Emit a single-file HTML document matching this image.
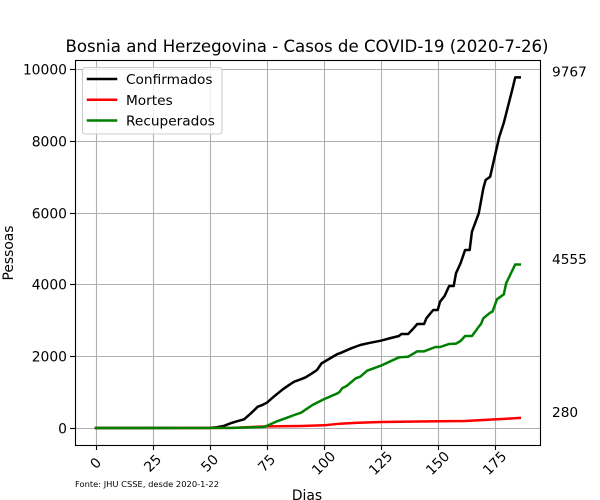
<!DOCTYPE html>
<html>
<head>
<meta charset="utf-8">
<style>
html,body{margin:0;padding:0;background:#fff;}
svg{display:block;font-family:"DejaVu Sans","Liberation Sans",sans-serif;}
</style>
</head>
<body>
<svg id="chart" width="600" height="500" viewBox="0 0 600 500" xmlns="http://www.w3.org/2000/svg"></svg>
<script>
const titleText = 'Bosnia and Herzegovina - Casos de COVID-19 (2020-7-26)';
const sourceText = 'Fonte: JHU CSSE, desde 2020-1-22';
const xTickValues = [0, 25, 50, 75, 100, 125, 150, 175];
const yTickValues = [0, 2000, 4000, 6000, 8000, 10000];
const confirmedDays = [0,50,53,56,59,62,65,68,71,73,75,78,82,85,87,90,92,95,97,99,103,106,107,112,116,120,125,129,133,134,137,139,141,144,145,148,150,151,153,155,157,158,160,162,164,165,168,170,171,173,175,177,179,183,184,186];
const confirmedValues = [0,5,20,56,130,190,242,409,593,640,705,872,1078,1210,1290,1360,1412,1530,1616,1800,1950,2061,2080,2220,2312,2370,2432,2500,2563,2618,2618,2750,2897,2897,3055,3287,3287,3518,3677,3955,3955,4309,4588,4958,4958,5468,5980,6677,6908,7000,7557,8114,8504,9500,9767,9767];
const deathsDays = [0,60,75,90,100,107,115,125,150,162,175,186];
const deathsValues = [0,5,45,55,75,120,145,167,187,195,240,280];
const recoveredDays = [0,60,74,79,84,87,90,95,100,106,107,108,110,114,116,119,125,133,137,141,144,149,151,155,158,160,162,165,168,169,170,173,174,176,179,180,184,186];
const recoveredValues = [0,2,30,175,290,362,426,640,800,966,1011,1106,1170,1384,1430,1596,1735,1969,1986,2136,2136,2256,2256,2340,2350,2423,2563,2563,2822,2900,3055,3212,3240,3585,3724,4030,4555,4555];
const seriesNames = ['Confirmados', 'Mortes', 'Recuperados'];
const seriesColors = ['#000000', '#ff0000', '#008000'];

const svg = document.getElementById('chart');
const NS = 'http://www.w3.org/2000/svg';
const plot = {left: 75, right: 540, top: 60, bottom: 445};
function xScale(d) { return 96 + d * 2.2784; }
function yScale(v) { return 428 - v * 0.0359; }
function node(tag, attrs, text) {
  const el = document.createElementNS(NS, tag);
  for (const k in attrs) el.setAttribute(k, attrs[k]);
  if (text !== undefined) el.textContent = text;
  svg.appendChild(el);
  return el;
}
let el;
// background
el = node('rect', {x: plot.left, y: plot.top, width: plot.right - plot.left, height: plot.bottom - plot.top, fill: '#fff'});



// grid
xTickValues.forEach(function (t) {
  const x = Math.round(xScale(t)) + 0.5;
  el = node('line', {x1: x, x2: x, y1: plot.top, y2: plot.bottom, stroke: '#b0b0b0', 'stroke-width': 1.1});
  
  
  el = node('line', {x1: x, x2: x, y1: plot.bottom, y2: plot.bottom + 5, stroke: '#000', 'stroke-width': 1.1});
  
  
  const ly = 463;
  el = node('text', {x: x - 1, y: ly + 5, 'font-size': 13.89, 'text-anchor': 'middle', fill: '#000', transform: 'rotate(-45 ' + (x - 1) + ' ' + ly + ')'}, String(t));
  
  
});
yTickValues.forEach(function (t) {
  const y = Math.round(yScale(t)) + 0.5;
  el = node('line', {x1: plot.left, x2: plot.right, y1: y, y2: y, stroke: '#b0b0b0', 'stroke-width': 1.1});
  
  
  el = node('line', {x1: plot.left - 5, x2: plot.left, y1: y, y2: y, stroke: '#000', 'stroke-width': 1.1});
  
  
  el = node('text', {x: plot.left - 8, y: y + 5, 'font-size': 13.89, 'text-anchor': 'end', fill: '#000'}, String(t));
  
  
});

// series
function pathFor(days, values) {
  return days.map(function (d, i) {
    return (i ? 'L' : 'M') + xScale(d).toFixed(2) + ' ' + yScale(values[i]).toFixed(2);
  }).join(' ');
}
const allDays = [confirmedDays, deathsDays, recoveredDays];
const allValues = [confirmedValues, deathsValues, recoveredValues];
const seriesKeys = ['confirmados-line', 'mortes-line', 'recuperados-line'];
const labelKeys = ['confirmados-end-label', 'mortes-end-label', 'recuperados-end-label'];
allDays.forEach(function (days, i) {
  el = node('path', {d: pathFor(days, allValues[i]), fill: 'none', stroke: seriesColors[i], 'stroke-width': 2.5, 'stroke-linejoin': 'round', 'stroke-linecap': 'square'});
  
  
});
allValues.forEach(function (values, i) {
  const last = values[values.length - 1];
  el = node('text', {x: 552, y: yScale(last) - 0.7, 'font-size': 13.7, fill: '#000'}, String(last));
  
  
});

// spines
el = node('rect', {x: plot.left + 0.5, y: plot.top + 0.5, width: plot.right - plot.left, height: plot.bottom - plot.top, fill: 'none', stroke: '#000', 'stroke-width': 1.1});



// legend
el = node('rect', {x: 82.5, y: 67.5, width: 139.5, height: 66.5, rx: 3, ry: 3, fill: '#fff', 'fill-opacity': 0.8, stroke: '#cccccc', 'stroke-width': 1.1});


seriesNames.forEach(function (name, i) {
  const y = 79 + i * 20.75;
  el = node('line', {x1: 88, x2: 116, y1: y, y2: y, stroke: seriesColors[i], 'stroke-width': 2.5, 'stroke-linecap': 'square'});
  
  
  el = node('text', {x: 126, y: y + 5, 'font-size': 13.7, fill: '#000'}, name);
  
  
});

// titles
el = node('text', {x: 307, y: 52, 'font-size': 16.6, 'text-anchor': 'middle', fill: '#000'}, titleText);


el = node('text', {x: 307, y: 500, 'font-size': 13.89, 'text-anchor': 'middle', fill: '#000'}, 'Dias');


el = node('text', {x: 13, y: 253, 'font-size': 13.89, 'text-anchor': 'middle', fill: '#000', transform: 'rotate(-90 13 253)'}, 'Pessoas');


el = node('text', {x: 75, y: 487, 'font-size': 8.33, fill: '#000'}, sourceText);


</script>
</body>
</html>
